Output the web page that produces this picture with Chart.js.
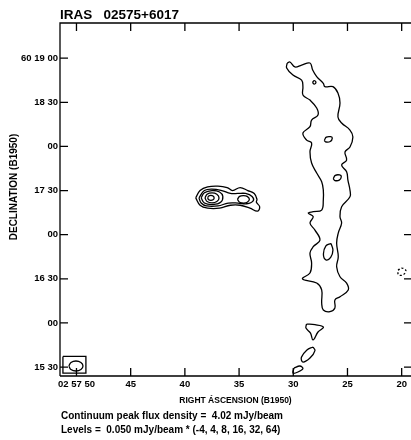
<!DOCTYPE html>
<html lang="en">
  <head>
    <meta charset="UTF-8" />
    <title>IRAS 02575+6017</title>
    <style>
      html, body { margin: 0; background: #fff; }
    </style>
  </head>
  <body>
    <canvas id="mapChart" width="411" height="440"></canvas>

    <script src="https://cdn.jsdelivr.net/npm/chart.js@4/dist/chart.umd.min.js"></script>
    <script>
      // x = seconds of RA after 02h57m, y = arcsec of Dec above 60d15'00" (B1950)
      const raTicks = [50, 45, 40, 35, 30, 25, 20];
      const raTickLabels = ["02 57 50", "45", "40", "35", "30", "25", "20"];
      const decTicks = [240, 210, 180, 150, 120, 90, 60, 30];
      const decTickLabels = ["60 19 00", "18 30", "00", "17 30", "00", "16 30", "00", "15 30"];

      // elongated ridge, lowest level (4 x 0.050 mJy/beam)
      const ridge = [
        [30.56, 236.7], [30.31, 237.4], [29.85, 234.0], [29.23, 235.3], [28.46, 236.7],
        [28.21, 231.9], [27.84, 227.4], [27.23, 222.9], [27.08, 220.6], [26.34, 220.6],
        [25.88, 216.3], [25.69, 209.5], [25.88, 200.0], [25.54, 195.9], [24.77, 191.1],
        [24.5, 186.4], [24.77, 179.6], [25.23, 176.2], [25.08, 170.7], [25.54, 167.3],
        [25.08, 162.8], [24.96, 157.1], [24.77, 150.3], [24.77, 145.8], [25.54, 139.0],
        [25.69, 132.2], [25.54, 127.9], [25.85, 121.1], [26.0, 114.3], [25.85, 105.0],
        [26.0, 98.2], [25.69, 91.4], [25.08, 87.1], [24.93, 82.4], [25.69, 77.8],
        [26.16, 75.6], [26.16, 70.1], [26.62, 67.6], [27.23, 68.8], [27.38, 73.5],
        [27.38, 82.4], [27.84, 87.1], [29.15, 90.0], [28.46, 93.9], [28.31, 100.7],
        [28.46, 107.5], [28.16, 111.8], [27.54, 116.3], [28.0, 123.1], [28.46, 127.9],
        [28.16, 132.2], [28.62, 134.7], [28.16, 135.6], [27.38, 136.7], [27.23, 143.5],
        [27.23, 150.3], [27.38, 156.0], [27.84, 161.9], [28.31, 168.7], [28.46, 176.4],
        [28.31, 182.3], [28.77, 184.3], [29.11, 189.1], [28.46, 193.4], [28.31, 197.9],
        [27.72, 201.3], [27.84, 206.1], [28.46, 211.5], [29.11, 214.9], [29.11, 220.6],
        [29.23, 225.1], [30.03, 228.5], [30.61, 233.3], [30.56, 236.7]
      ];

      // small closed islands along the ridge
      const knotA = [[28.23, 223.5], [28.07, 224.7], [27.91, 223.5], [28.07, 222.3], [28.23, 223.5]];
      const knotB = [[27.14, 184.0], [26.95, 186.3], [26.55, 186.6], [26.40, 185.6], [26.59, 183.3], [26.99, 183.0], [27.14, 184.0]];
      const knotC = [[26.31, 158.0], [26.12, 160.3], [25.72, 160.6], [25.57, 159.4], [25.76, 157.1], [26.16, 156.8], [26.31, 158.0]];
      const knotD = [[26.52, 114.0], [26.34, 109.5], [26.55, 104.5], [26.99, 102.8], [27.22, 106.8], [26.99, 112.3], [26.52, 114.0]];
      const knotE = [[28.78, 59.2], [28.0, 58.8], [27.22, 57.2], [27.72, 53.8], [28.18, 48.4], [28.41, 53.1], [28.83, 56.5], [28.78, 59.2]];
      const knotF = [[28.18, 43.6], [28.0, 41.2], [28.46, 36.1], [29.11, 33.4], [29.25, 36.6], [28.74, 41.6], [28.18, 43.6]];
      const knotG = [[29.94, 29.3], [29.39, 30.7], [29.11, 29.0], [29.57, 26.6], [30.03, 25.9], [29.94, 29.3]];

      // negative level (-4), dashed
      const negKnot = [[20.34, 95.9], [19.98, 97.3], [19.61, 95.5], [19.89, 92.6], [20.3, 92.8], [20.34, 95.9]];

      // compact source near 02 57 37.5, 60 17 25: levels 4, 8, 16, 32, 64
      const srcLevel4 = [
        [39.0, 145], [38.6, 150], [37.9, 152.5], [36.95, 153], [36.1, 152], [35.6, 150],
        [34.9, 152], [34.2, 150], [33.6, 148], [33.35, 144], [33.4, 142], [33.1, 139],
        [33.3, 136], [34.0, 138], [34.9, 140], [35.8, 140], [36.8, 138], [37.9, 138],
        [38.6, 140], [39.0, 145]
      ];
      const srcLevel8 = [
        [38.7, 145], [38.2, 150], [37.5, 151], [36.6, 150], [35.8, 148], [35.1, 148],
        [34.4, 148], [33.8, 146], [33.7, 143], [34.3, 141], [35.1, 141.5], [36.0, 141.5],
        [36.95, 139.5], [38.0, 139.5], [38.5, 141.5], [38.7, 145]
      ];
      const srcSecond = [[35.15, 144], [34.95, 146], [34.6, 146.5], [34.25, 146], [34.05, 144], [34.25, 142], [34.6, 141.5], [34.95, 142], [35.15, 144]];
      const srcLevel16 = [[38.5, 145], [38.2, 148.5], [37.5, 150], [36.8, 149], [36.5, 146], [36.7, 142], [37.4, 140.5], [38.2, 141.5], [38.5, 145]];
      const srcLevel32 = [[38.15, 145], [37.95, 147.5], [37.5, 148.4], [37.05, 147.5], [36.85, 145], [37.05, 142.5], [37.5, 141.6], [37.95, 142.5], [38.15, 145]];
      const srcLevel64 = [[37.9, 145], [37.8, 146.3], [37.6, 146.7], [37.4, 146.3], [37.3, 145], [37.4, 143.7], [37.6, 143.3], [37.8, 143.7], [37.9, 145]];

      // beam, lower left
      const beamBox = [[51.25, 37.2], [49.13, 37.2], [49.13, 25.9], [51.25, 25.9], [51.25, 37.2]];
      const beam = [[50.7, 30.7], [50.51, 33.1], [50.05, 34.1], [49.59, 33.1], [49.4, 30.7], [49.59, 28.3], [50.05, 27.3], [50.51, 28.3], [50.7, 30.7]];

      const titleText = "IRAS   02575+6017";
      const noteLines = [
        "Continuum peak flux density =  4.02 mJy/beam",
        "Levels =  0.050 mJy/beam * (-4, 4, 8, 16, 32, 64)"
      ];

      const FONT = "'Liberation Sans', Arial, sans-serif";

      function contour(points, dash, tension) {
        return {
          data: points.map((p) => ({ x: p[0], y: p[1] })),
          borderColor: "#000",
          borderWidth: 1.3,
          borderDash: dash || [],
          pointRadius: 0,
          fill: false,
          tension: tension === undefined ? 0.4 : tension,
        };
      }

      const frameAndTicks = {
        id: "frameAndTicks",
        afterDraw(chart) {
          const { ctx, chartArea: a } = chart;
          const x = chart.scales.x;
          const y = chart.scales.y;
          ctx.save();
          ctx.strokeStyle = "#000";
          ctx.lineWidth = 1.3;
          ctx.beginPath();
          ctx.moveTo(a.left, a.bottom);
          ctx.lineTo(a.left, a.top);
          ctx.lineTo(a.right, a.top);
          ctx.moveTo(a.left, a.bottom);
          ctx.lineTo(a.right, a.bottom);
          raTicks.forEach((v) => {
            const px = x.getPixelForValue(v);
            ctx.moveTo(px, a.bottom);
            ctx.lineTo(px, a.bottom - 8);
            ctx.moveTo(px, a.top);
            ctx.lineTo(px, a.top + 8);
          });
          decTicks.forEach((v) => {
            const py = y.getPixelForValue(v);
            ctx.moveTo(a.left, py);
            ctx.lineTo(a.left + 8, py);
            ctx.moveTo(a.right, py);
            ctx.lineTo(a.right - 7, py);
          });
          ctx.stroke();

          ctx.fillStyle = "#000";
          ctx.textBaseline = "alphabetic";
          ctx.textAlign = "left";
          ctx.font = "bold 13.5px " + FONT;
          ctx.fillText(titleText, 60, 18.5);
          ctx.font = "bold 10px " + FONT;
          ctx.fillText(noteLines[0], 61, 419);
          ctx.fillText(noteLines[1], 61, 433);

          ctx.translate(14, 187);
          ctx.rotate(-Math.PI / 2);
          ctx.textAlign = "center";
          ctx.textBaseline = "middle";
          ctx.font = "bold 10px " + FONT;
          ctx.fillText("DECLINATION (B1950)", 0, 0);
          ctx.restore();
        },
      };

      new Chart("mapChart", {
        type: "line",
        data: {
          datasets: [
            contour(ridge),
            contour(knotA),
            contour(knotB),
            contour(knotC),
            contour(knotD),
            contour(knotE),
            contour(knotF),
            contour(knotG),
            contour(negKnot, [2, 2]),
            contour(srcLevel4),
            contour(srcLevel8),
            contour(srcSecond),
            contour(srcLevel16),
            contour(srcLevel32),
            contour(srcLevel64),
            contour(beamBox, [], 0),
            contour(beam),
          ],
        },
        options: {
          responsive: false,
          animation: false,
          events: [],
          layout: { padding: { top: 23, right: 0, bottom: 31, left: 0 } },
          plugins: { legend: { display: false }, tooltip: { enabled: false } },
          scales: {
            x: {
              type: "linear",
              reverse: true,
              min: 19.14,
              max: 51.52,
              afterBuildTicks: (s) => { s.ticks = raTicks.map((v) => ({ value: v })); },
              afterFit: (s) => { s.height = 33; },
              grid: { display: false, drawTicks: false },
              border: { display: false },
              ticks: {
                padding: 3,
                color: "#000",
                maxRotation: 0,
                font: { family: FONT, size: 9.5, weight: "bold" },
                callback: (v, i) => raTickLabels[i],
              },
              title: {
                display: true,
                text: "RIGHT ÁSCENSION (B1950)",
                color: "#000",
                padding: { top: 0, bottom: 3 },
                font: { family: FONT, size: 8.5, weight: "bold" },
              },
            },
            y: {
              type: "linear",
              min: 23.9,
              max: 263.9,
              afterBuildTicks: (s) => { s.ticks = decTicks.map((v) => ({ value: v })); },
              afterFit: (s) => { s.width = 60; },
              grid: { display: false, drawTicks: false },
              border: { display: false },
              ticks: {
                padding: 2,
                color: "#000",
                font: { family: FONT, size: 9.5, weight: "bold" },
                callback: (v, i) => decTickLabels[i],
              },
            },
          },
        },
        plugins: [frameAndTicks],
      });
    </script>
  </body>
</html>
